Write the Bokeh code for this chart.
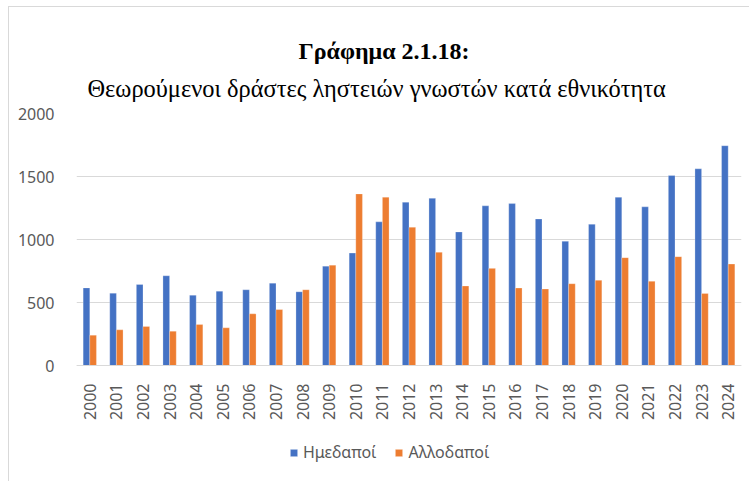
import math
from bokeh.plotting import figure
from bokeh.models import ColumnDataSource, FactorRange, Legend, LegendItem, Title, FixedTicker, Range1d
from bokeh.transform import dodge
from bokeh.embed import file_html
from bokeh.resources import INLINE

years = [str(y) for y in range(2000, 2025)]
domestic = [616, 574, 643, 712, 558, 590, 601, 653, 585, 788, 892, 1140, 1296,
            1327, 1060, 1267, 1285, 1163, 986, 1121, 1335, 1259, 1508, 1561, 1744]
foreign = [241, 283, 310, 272, 325, 299, 410, 444, 601, 796, 1362, 1336, 1097,
           898, 631, 771, 615, 607, 649, 676, 856, 668, 864, 572, 805]
series_names = ["Ημεδαποί", "Αλλοδαποί"]
title_main = "Γράφημα 2.1.18:"
title_sub = "Θεωρούμενοι δράστες ληστειών γνωστών κατά εθνικότητα"
y_ticks = [0, 500, 1000, 1500, 2000]

BLUE = "#4472C4"
ORANGE = "#ED7D31"
GRID = "#d9d9d9"
LABEL = "#595959"

# frame runs from the top gridline (2000) down to the bottom of the canvas;
# the category axis is pinned at y=0 so the legend can sit inside the frame
Y_MAX = 2000
PX_PER_UNIT = 252 / Y_MAX
Y_MIN = -117 / PX_PER_UNIT

src = ColumnDataSource(dict(year=years, dom=domestic, frn=foreign))

p = figure(x_range=FactorRange(*years, range_padding=0), y_range=Range1d(Y_MIN, Y_MAX),
           width=741, height=475, output_backend="svg", toolbar_location=None,
           min_border_left=67, min_border_right=9, min_border_top=106, min_border_bottom=0)
p.styles = {"margin-left": "8px", "margin-top": "6px",
            "border-left": "1px solid #d9d9d9", "border-top": "1px solid #d9d9d9"}

r1 = p.vbar(x=dodge("year", -0.125, range=p.x_range), top="dom", width=0.25, source=src,
            fill_color=BLUE, line_color="white", line_alpha=0.5, line_width=0.5)
r2 = p.vbar(x=dodge("year", 0.125, range=p.x_range), top="frn", width=0.25, source=src,
            fill_color=ORANGE, line_color="white", line_alpha=0.5, line_width=0.5)

p.outline_line_color = None
p.xgrid.grid_line_color = None
p.ygrid.grid_line_color = GRID
p.ygrid.grid_line_width = 1
p.yaxis.ticker = FixedTicker(ticks=y_ticks)
p.yaxis.axis_line_color = None
p.yaxis.major_tick_line_color = None
p.yaxis.minor_tick_line_color = None
p.yaxis.major_label_standoff = 16
p.yaxis.major_label_text_font = "Noto Sans"
p.yaxis.major_label_text_font_size = "16px"
p.yaxis.major_label_text_color = LABEL

p.xaxis.fixed_location = 0
p.xaxis.axis_line_color = GRID
p.xaxis.major_tick_line_color = None
p.xaxis.minor_tick_line_color = None
p.xaxis.major_label_orientation = math.pi / 2
p.xaxis.major_label_standoff = 12
p.xaxis.major_label_text_font = "Noto Sans"
p.xaxis.major_label_text_font_size = "16px"
p.xaxis.major_label_text_color = LABEL

legend = Legend(items=[LegendItem(label=series_names[0], renderers=[r1]),
                       LegendItem(label=series_names[1], renderers=[r2])],
                orientation="horizontal", location=(213, 19),
                padding=0, margin=0, spacing=18, label_standoff=5,
                glyph_width=9, glyph_height=9,
                label_text_font="Noto Sans", label_text_font_size="16px",
                label_text_color=LABEL, border_line_color=None, background_fill_alpha=0)
p.add_layout(legend, "center")

p.add_layout(Title(text=title_sub, align="left", offset=11, standoff=24,
                   text_font="Liberation Serif", text_font_size="24.4px",
                   text_font_style="normal", text_color="black"), "above")
p.add_layout(Title(text=title_main, align="left", offset=222, standoff=-7,
                   text_font="Liberation Serif", text_font_size="24px",
                   text_font_style="bold", text_color="black"), "above")

open("out.html", "w").write(file_html(p, INLINE))
